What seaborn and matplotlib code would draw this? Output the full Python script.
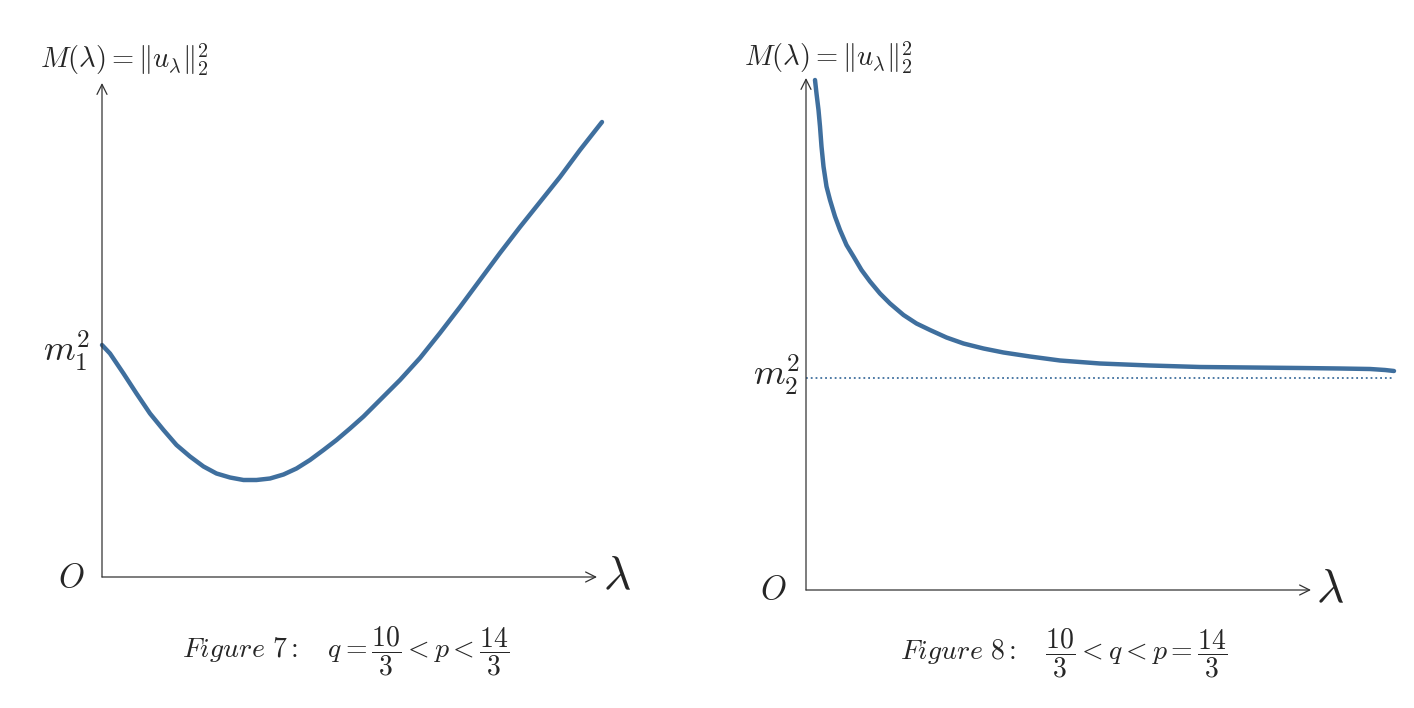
import matplotlib
matplotlib.use("Agg")
import matplotlib.pyplot as plt
import seaborn as sns
import pandas as pd

# Figure 7: M(lambda) dips below m1^2 and then grows
lam_7 = [0.0, 0.16, 0.43, 0.69, 0.96, 1.23, 1.49, 1.76, 2.03, 2.29,
         2.56, 2.83, 3.09, 3.36, 3.63, 3.89, 4.16, 4.43, 4.69, 4.96,
         5.23, 5.49, 5.76, 5.96, 6.36, 6.76, 7.16, 7.56, 7.96, 8.36,
         8.76, 9.16, 9.56, 10.0]
m_7 = [4.64, 4.47, 4.07, 3.67, 3.27, 2.94, 2.64, 2.41, 2.21, 2.07,
       1.99, 1.94, 1.94, 1.97, 2.05, 2.17, 2.34, 2.54, 2.74, 2.97,
       3.21, 3.47, 3.74, 3.94, 4.38, 4.88, 5.4, 5.94, 6.48, 7.0,
       7.5, 8.0, 8.54, 9.1]
m1_sq = 4.64

# Figure 8: M(lambda) blows up near 0 and decreases towards m2^2
lam_8 = [0.18, 0.21, 0.25, 0.28, 0.31, 0.35, 0.41, 0.48, 0.58, 0.68,
         0.81, 0.95, 1.11, 1.28, 1.48, 1.68, 1.95, 2.21, 2.48, 2.81,
         3.15, 3.55, 3.95, 4.48, 5.08, 5.88, 6.88, 7.88, 8.88, 9.88,
         10.68, 11.28, 11.58, 11.76]
m_8 = [10.2, 9.93, 9.6, 9.27, 8.87, 8.47, 8.07, 7.8, 7.47, 7.2,
       6.9, 6.67, 6.4, 6.17, 5.93, 5.73, 5.5, 5.33, 5.2, 5.05,
       4.93, 4.83, 4.75, 4.67, 4.59, 4.53, 4.49, 4.46, 4.45, 4.44,
       4.43, 4.42, 4.4, 4.38]
m2_sq = 4.24

W, H = 1414, 708
blue = "#3f6f9e"
axc = "#333333"

sns.set_style("white")
plt.rcParams['mathtext.fontset'] = 'cm'
plt.rcParams['font.family'] = ['DejaVu Sans']

fig = plt.figure(figsize=(W / 100, H / 100), dpi=100)
# 50 px per data unit on both panels
ax1 = fig.add_axes([102 / W, (H - 577) / H, 500 / W, 500 / H])
ax2 = fig.add_axes([806 / W, (H - 590) / H, 588 / W, 510 / H])
ax1.set(xlim=(0, 10), ylim=(0, 10))
ax2.set(xlim=(0, 11.76), ylim=(0, 10.2))

df7 = pd.DataFrame({'lam': lam_7, 'M': m_7})
df8 = pd.DataFrame({'lam': lam_8, 'M': m_8})
sns.lineplot(data=df7, x='lam', y='M', ax=ax1, color=blue, lw=3.2, sort=False)
sns.lineplot(data=df8, x='lam', y='M', ax=ax2, color=blue, lw=3.2, sort=False)
ax2.axhline(m2_sq, color=blue, lw=1.3, ls=':')

for ax in (ax1, ax2):
    for ln in ax.lines:
        ln.set_clip_on(False)
        ln.set_solid_joinstyle('round')
    ax.set_axis_off()


def draw_axes(ax, xend, yend):
    kw = dict(arrowstyle='->', lw=0.9, color=axc, mutation_scale=18,
              shrinkA=0, shrinkB=0)
    ax.annotate('', xy=(xend, 0), xytext=(0, 0), arrowprops=kw, annotation_clip=False)
    ax.annotate('', xy=(0, yend), xytext=(0, 0), arrowprops=kw, annotation_clip=False)


draw_axes(ax1, 9.9, 9.88)
draw_axes(ax2, 10.1, 10.24)

title = r'$M(\lambda) = \|u_\lambda\|_2^2$'
ax1.text(0.44, 10.34, title, ha='center', va='center', fontsize=20.5)
ax2.text(0.44, 10.64, title, ha='center', va='center', fontsize=20.5)

ax1.text(-0.24, m1_sq - 0.12, r'$m_1^2$', ha='right', va='center', fontsize=26)
ax2.text(-0.12, m2_sq + 0.06, r'$m_2^2$', ha='right', va='center', fontsize=26)

ax1.text(-0.62, -0.02, r'$O$', ha='center', va='center', fontsize=24)
ax2.text(-0.66, 0.0, r'$O$', ha='center', va='center', fontsize=24)
ax1.text(10.3, 0.0, r'$\lambda$', ha='center', va='center', fontsize=34)
ax2.text(10.48, 0.0, r'$\lambda$', ha='center', va='center', fontsize=34)

fig.text(346 / W, 1 - 651 / H,
         r'$Figure\ 7:\quad q = \dfrac{10}{3} < p < \dfrac{14}{3}$',
         ha='center', va='center', fontsize=20)
fig.text(1064 / W, 1 - 653 / H,
         r'$Figure\ 8:\quad \dfrac{10}{3} < q < p = \dfrac{14}{3}$',
         ha='center', va='center', fontsize=20)

fig.savefig('out.png', dpi=100, facecolor='white')
